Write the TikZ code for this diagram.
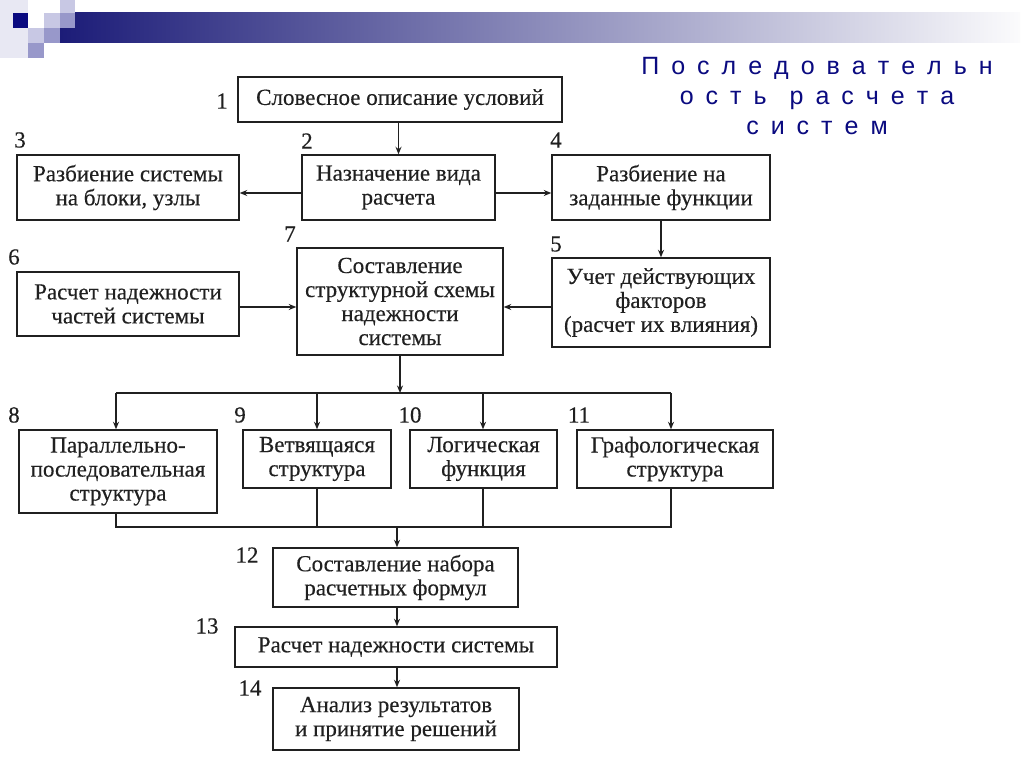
\documentclass[tikz,border=0pt]{standalone}
\usepackage{fontspec}
\setmainfont{Liberation Serif}
\newfontfamily\boxfont[FakeBold=0.3]{Liberation Serif}
\newfontfamily\titlefont{Liberation Sans}
\usetikzlibrary{arrows.meta,calc}
\definecolor{navy}{HTML}{0A0A80}
\definecolor{barL}{HTML}{1C1C78}
\definecolor{barM}{HTML}{9C9CBC}
\definecolor{sqA}{HTML}{E8E8F3}
\definecolor{sqB}{HTML}{C8C8E4}
\definecolor{sqC}{HTML}{9898CA}
\definecolor{ink}{HTML}{202020}
\newcommand\mainfs{\boxfont\fontsize{23}{24}\selectfont}
\newcommand\spc{\setlength\spaceskip{12pt}}
\begin{document}
\begin{tikzpicture}[x=1pt,y=-1pt,
  box/.style={draw=ink, line width=1.4pt, align=center, inner sep=0pt, font=\mainfs, text=ink},
  num/.style={font=\mainfs, text=ink, inner sep=0pt},
  conn/.style={draw=ink, line width=1.3pt},
  arr/.style={conn, -{Stealth[length=7.5pt,width=6pt]}},
  ttl/.style={font=\titlefont\fontsize{25}{30}\selectfont, text=navy, inner sep=0pt, anchor=base}]
\useasboundingbox (0,0) rectangle (1024,767);
\fill[white] (0,0) rectangle (1024,767);
% decoration
\fill[sqA] (0,0) rectangle (28,58);
\shade[left color=barL, middle color=barM, right color=white!96!barM] (60,13) rectangle (1020,43);
\fill[navy] (13,13) rectangle (28,28);
\fill[sqB] (44,13) rectangle (60,28);
\fill[sqB] (60,0) rectangle (75,13);
\fill[sqC] (60,13) rectangle (75,28);
\fill[sqC] (44,28) rectangle (60,43);
\fill[sqB] (28,28) rectangle (44,43);
\fill[sqC] (28,43) rectangle (44,58);
% title
\node[ttl] (t1) at (817,75) {\spc П о с л е д о в а т е л ь н};
\node[ttl] (t2) at (817,105) {\spc о с т ь\hspace{11pt} р а с ч е т а};
\node[ttl] (t3) at (817,135) {\spc с и с т е м};
% boxes
\node[box, minimum width=324, minimum height=45] (n1) at (400,99.5) {Словесное описание условий};
\node[box, minimum width=193, minimum height=65] (n2) at (398.5,187.5) {Назначение вида\\расчета};
\node[box, minimum width=222, minimum height=65] (n3) at (128,187.5) {Разбиение системы\\на блоки, узлы};
\node[box, minimum width=218, minimum height=65] (n4) at (661,187.5) {Разбиение на\\заданные функции};
\node[box, minimum width=218, minimum height=89] (n5) at (661,302.5) {Учет действующих\\факторов\\(расчет их влияния)};
\node[box, minimum width=222, minimum height=64] (n6) at (128,304) {Расчет надежности\\частей системы};
\node[box, minimum width=206, minimum height=107] (n7) at (400,301.5) {Составление\\структурной схемы\\надежности\\системы};
\node[box, minimum width=198, minimum height=83] (n8) at (118,471.5) {Параллельно-\\последовательная\\структура};
\node[box, minimum width=148, minimum height=58] (n9) at (317,459) {Ветвящаяся\\структура};
\node[box, minimum width=147, minimum height=58] (n10) at (483.5,459) {Логическая\\функция};
\node[box, minimum width=196, minimum height=58] (n11) at (675,459) {Графологическая\\структура};
\node[box, minimum width=245, minimum height=59] (n12) at (395.5,577.5) {Составление набора\\расчетных формул};
\node[box, minimum width=322, minimum height=40] (n13) at (396,647) {Расчет надежности системы};
\node[box, minimum width=246, minimum height=62] (n14) at (396,719) {Анализ результатов\\и принятие решений};
% numbers
\node[num] (l1) at (222,101) {1};
\node[num] (l2) at (307,141) {2};
\node[num] (l3) at (20,140) {3};
\node[num] (l4) at (556,140) {4};
\node[num] (l5) at (556,244) {5};
\node[num] (l6) at (14,257) {6};
\node[num] (l7) at (290,234) {7};
\node[num] (l8) at (14,415) {8};
\node[num] (l9) at (240,415) {9};
\node[num] (l10) at (410,415) {10};
\node[num] (l11) at (579,415) {11};
\node[num] (l12) at (247,555) {12};
\node[num] (l13) at (207,626) {13};
\node[num] (l14) at (250,688) {14};
% connectors
\coordinate (bus1) at (400,393);
\coordinate (bus2) at (397,527);
\draw[arr] (n2.north |- n1.south) -- (n2.north);
\draw[arr] ([yshift=-5.5pt]n2.west) -- ([yshift=-5.5pt]n2.west -| n3.east);
\draw[arr] ([yshift=-5.5pt]n2.east) -- ([yshift=-5.5pt]n2.east -| n4.west);
\draw[arr] (n4.south) -- (n5.north);
\draw[arr] ([yshift=-4.5pt]n5.west) -- ([yshift=-4.5pt]n5.west -| n7.east);
\draw[arr] ([yshift=-3pt]n6.east) -- ([yshift=-3pt]n6.east -| n7.west);
\draw[arr] (n7.south) -- (n7.south |- bus1);
\draw[conn] ([xshift=-2pt]n8.north |- bus1) -- ([xshift=-4pt]n11.north |- bus1);
\draw[arr] ([xshift=-2pt]n8.north |- bus1) -- ([xshift=-2pt]n8.north);
\draw[arr] (n9.north |- bus1) -- (n9.north);
\draw[arr] ([xshift=-0.5pt]n10.north |- bus1) -- ([xshift=-0.5pt]n10.north);
\draw[arr] ([xshift=-4pt]n11.north |- bus1) -- ([xshift=-4pt]n11.north);
\draw[conn] ([xshift=-2pt]n8.south) -- ([xshift=-2pt]n8.south |- bus2) -- ([xshift=-4pt]n11.south |- bus2) -- ([xshift=-4pt]n11.south);
\draw[conn] (n9.south) -- (n9.south |- bus2);
\draw[conn] ([xshift=-0.5pt]n10.south) -- ([xshift=-0.5pt]n10.south |- bus2);
\draw[arr] (bus2) -- (bus2 |- n12.north);
\draw[arr] (bus2 |- n12.south) -- (bus2 |- n13.north);
\draw[arr] (bus2 |- n13.south) -- (bus2 |- n14.north);
\end{tikzpicture}
\end{document}
